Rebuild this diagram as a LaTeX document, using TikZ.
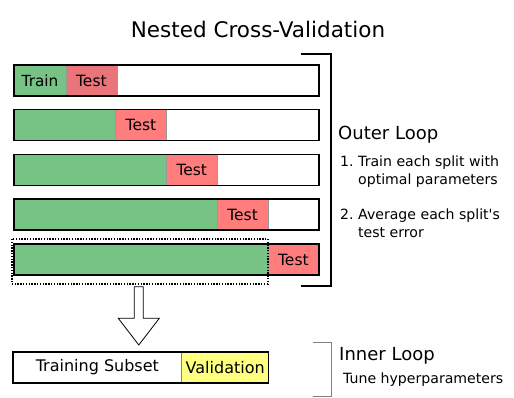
\documentclass[tikz,border=0pt]{standalone}
\usepackage{fontspec}
\setmainfont{DejaVu Sans}[Ligatures=TeXOff]
\usetikzlibrary{positioning}

\definecolor{traingreen}{RGB}{118,195,133}
\definecolor{firstred}{RGB}{233,117,122}
\definecolor{testred}{RGB}{255,125,125}
\definecolor{validyellow}{RGB}{255,255,128}

\tikzset{
  fold/.style={draw=black, line width=1.5pt, minimum width=305, minimum height=31,
    inner sep=0, outer sep=0, anchor=north west},
  trainpart/.style={fill=traingreen, draw=black, line width=1pt, minimum height=31,
    inner sep=0, outer sep=0, anchor=north west, font=\fontsize{15.3}{18}\selectfont},
  testpart/.style={fill=testred, draw=gray!80, line width=0.6pt, minimum width=50.8,
    minimum height=31, inner sep=0, outer sep=0, font=\fontsize{15.5}{18}\selectfont},
  looptitle/.style={anchor=base west, inner sep=0, font=\fontsize{18}{21}\selectfont},
  looptext/.style={anchor=base west, inner sep=0, font=\fontsize{14.1}{17}\selectfont}
}

\begin{document}
\begin{tikzpicture}[x=1pt, y=-1pt]
  \useasboundingbox (0,0) rectangle (514,398);

  % --- Titolo ---
  \node[anchor=base, inner sep=0, font=\fontsize{21.5}{25}\selectfont] (title) at (258,37.3) {Nested Cross-Validation};

  % --- Fold 1 ---
  \node[trainpart, minimum width=52] (g1) at (14,65) {Train};
  \node[testpart, fill=firstred, right=0pt of g1] (t1) {Test};
  \node[fold] (f1) at (14,65) {};

  % --- Fold 2 ---
  \node[trainpart, minimum width=101.6] (g2) at (14,109.75) {};
  \node[testpart, right=0pt of g2] (t2) {Test};
  \node[fold] (f2) at (14,109.75) {};

  % --- Fold 3 ---
  \node[trainpart, minimum width=152.4] (g3) at (14,154.5) {};
  \node[testpart, right=0pt of g3] (t3) {Test};
  \node[fold] (f3) at (14,154.5) {};

  % --- Fold 4 ---
  \node[trainpart, minimum width=203.2] (g4) at (14,199.25) {};
  \node[testpart, right=0pt of g4] (t4) {Test};
  \node[fold] (f4) at (14,199.25) {};

  % --- Fold 5 (riquadro puntinato) ---
  \node[trainpart, minimum width=254] (g5) at (14,244) {};
  \node[testpart, right=0pt of g5] (t5) {Test};
  \node[fold] (f5) at (14,244) {};
  \node[draw=black, line width=1.6pt, dash pattern=on 1.4pt off 1.4pt,
    minimum width=256, minimum height=45, inner sep=0, anchor=north west] (sel) at (11,238) {};

  % --- Freccia verso il loop interno ---
  \coordinate (atop) at (138.8,286.7);
  \draw[fill=white, line width=0.8pt, line join=miter]
    (atop) ++(-4.5,0) -- ++(0,31.6) -- ++(-16,0) -- (138.8,345) -- (159.3,318.3)
    -- ++(-16,0) -- ++(0,-31.6) -- cycle;

  % --- Loop interno ---
  \node[fill=white, draw=gray, line width=0.6pt, minimum width=168.7, minimum height=31,
    inner sep=0, outer sep=0, anchor=north west, font=\fontsize{16}{18}\selectfont] (sub) at (13,352) {Training Subset};
  \node[fill=validyellow, draw=gray, line width=0.6pt, minimum width=87, minimum height=31,
    inner sep=0, outer sep=0, right=0pt of sub, font=\fontsize{16}{18}\selectfont] (val) {Validation};
  \draw[line width=1.5pt] (sub.north west) rectangle (val.south east);

  % --- Parentesi ---
  \coordinate (ob1) at (301,54);
  \coordinate (ob2) at (331,54);
  \coordinate (ob3) at (331,286);
  \coordinate (ob4) at (301,286);
  \draw[line width=1.3pt] (ob1) -- (ob2) -- (ob3) -- (ob4);
  \coordinate (ib1) at (313,342);
  \coordinate (ib2) at (331,342);
  \coordinate (ib3) at (331,396);
  \coordinate (ib4) at (313,396);
  \draw[gray, line width=1pt] (ib1) -- (ib2) -- (ib3) -- (ib4);

  % --- Testi ---
  \node[looptitle] (outer) at (338,140) {Outer Loop};
  \node[looptext] (s1a) at (340,166.5) {1.};
  \node[looptext] (s1b) at (358,166.5) {Train each split with};
  \node[looptext] (s1c) at (358,184.5) {optimal parameters};
  \node[looptext] (s2a) at (340,219) {2.};
  \node[looptext] (s2b) at (358,219) {Average each split's};
  \node[looptext] (s2c) at (358,237) {test error};
  \node[looptitle] (inner) at (339,360) {Inner Loop};
  \node[looptext] (tune) at (343,383.3) {Tune hyperparameters};
\end{tikzpicture}
\end{document}
